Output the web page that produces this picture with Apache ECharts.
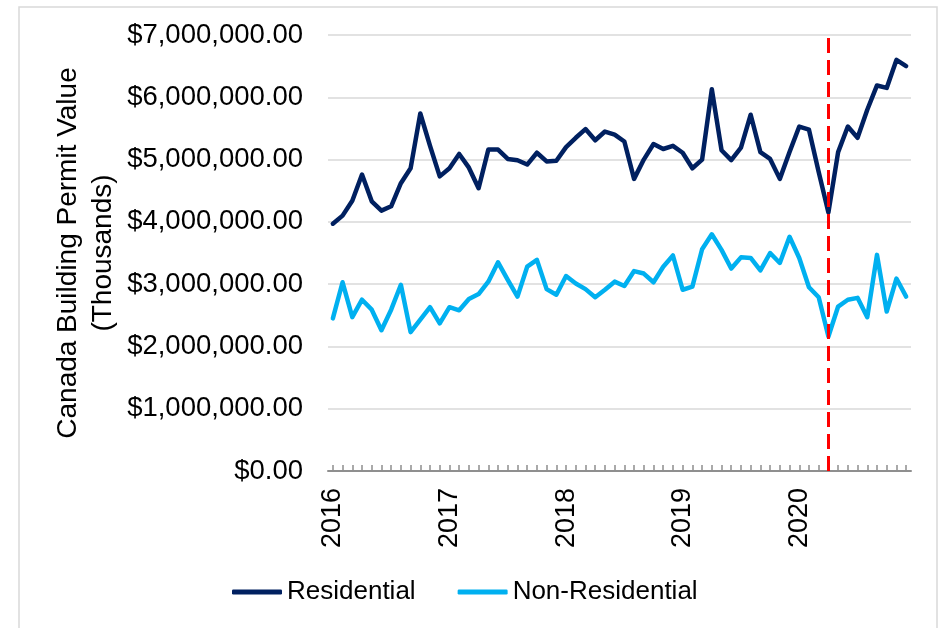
<!DOCTYPE html>
<html>
<head>
<meta charset="utf-8">
<script src="https://cdn.jsdelivr.net/npm/echarts@6/dist/echarts.min.js"></script>
<style>
html,body{margin:0;padding:0;background:#fff;}
#chart{width:943px;height:628px;}
</style>
</head>
<body>
<div id="chart"></div>
<script>
// Monthly categories, Jan 2016 - Dec 2020
const months = [];
for (let y = 2016; y <= 2020; y++) {
  for (let m = 1; m <= 12; m++) months.push(y + '-' + (m < 10 ? '0' + m : m));
}
// Values in thousands of dollars
const residential = [
  3970000, 4100000, 4340000, 4760000, 4330000, 4180000, 4250000, 4620000, 4860000, 5740000, 5220000, 4730000,
  4860000, 5090000, 4870000, 4540000, 5160000, 5160000, 5010000, 4990000, 4920000, 5110000, 4970000, 4980000,
  5200000, 5350000, 5490000, 5310000, 5450000, 5400000, 5290000, 4690000, 5000000, 5250000, 5170000, 5220000,
  5110000, 4860000, 5000000, 6130000, 5150000, 4990000, 5190000, 5720000, 5120000, 5010000, 4690000, 5120000,
  5530000, 5480000, 4800000, 4150000, 5120000, 5530000, 5350000, 5800000, 6190000, 6150000, 6600000, 6500000
];
const nonResidential = [
  2450000, 3030000, 2470000, 2750000, 2590000, 2260000, 2590000, 2990000, 2230000, 2430000, 2630000, 2370000,
  2630000, 2580000, 2760000, 2840000, 3040000, 3350000, 3070000, 2800000, 3280000, 3390000, 2920000, 2830000,
  3130000, 3010000, 2920000, 2790000, 2910000, 3040000, 2970000, 3210000, 3170000, 3030000, 3280000, 3460000,
  2910000, 2960000, 3560000, 3800000, 3550000, 3250000, 3430000, 3420000, 3220000, 3500000, 3340000, 3760000,
  3420000, 2950000, 2790000, 2160000, 2640000, 2750000, 2780000, 2470000, 3470000, 2560000, 3090000, 2800000
];
const seriesNames = ['Residential', 'Non-Residential'];
const markerMonth = '2020-04';
const yAxisTitle = 'Canada Building Permit Value\n(Thousands)';

const FONT = '"Liberation Sans", Arial, sans-serif';

function money(v) {
  return '$' + Number(v).toLocaleString('en-US', {minimumFractionDigits: 2, maximumFractionDigits: 2});
}

const chart = echarts.init(document.getElementById('chart'), null, {renderer: 'canvas'});
chart.setOption({
  animation: false,
  backgroundColor: '#ffffff',
  textStyle: {fontFamily: FONT},
  graphic: [{
    type: 'rect',
    shape: {x: 19, y: 7, width: 918, height: 640},
    style: {fill: 'none', stroke: '#d9d9d9', lineWidth: 1.5},
    z: -1, silent: true
  }, {
    type: 'text',
    x: 86, y: 253,
    rotation: Math.PI / 2,
    silent: true,
    style: {
      text: yAxisTitle,
      fontFamily: FONT, fontSize: 28, lineHeight: 35,
      fill: '#000',
      align: 'center', verticalAlign: 'middle'
    }
  }],
  grid: {left: 328, right: 32, top: 35, bottom: 157, containLabel: false},
  legend: {
    left: 232, top: 579, padding: 0,
    icon: 'roundRect',
    itemWidth: 50, itemHeight: 5, itemGap: 42,
    textStyle: {fontFamily: FONT, fontSize: 26, color: '#000'},
    data: seriesNames
  },
  xAxis: {
    type: 'category',
    data: months,
    boundaryGap: true,
    axisLine: {show: true, lineStyle: {color: '#8f8f8f', width: 2}},
    axisTick: {show: true, inside: true, length: 6, interval: 0, alignWithLabel: true,
               lineStyle: {color: '#8f8f8f', width: 1.5}},
    axisLabel: {
      interval: function (i) { return i % 12 === 0; },
      rotate: 90, margin: 17,
      fontFamily: FONT, fontSize: 27, color: '#000',
      formatter: function (v) { return v.slice(0, 4); }
    },
    splitLine: {show: false}
  },
  yAxis: {
    type: 'value',
    min: 0, max: 7000000, interval: 1000000,
    axisLine: {show: false},
    axisTick: {show: false},
    axisLabel: {margin: 25, fontFamily: FONT, fontSize: 27.5, color: '#000', formatter: money},
    splitLine: {show: true, lineStyle: {color: '#d9d9d9', width: 1.5}}
  },
  series: [
    {
      name: seriesNames[0], type: 'line', data: residential,
      symbol: 'none', smooth: false,
      lineStyle: {color: '#002060', width: 4.5, cap: 'round', join: 'round'},
      itemStyle: {color: '#002060'},
      z: 3
    },
    {
      name: seriesNames[1], type: 'line', data: nonResidential,
      symbol: 'none', smooth: false,
      lineStyle: {color: '#00b0f0', width: 4.5, cap: 'round', join: 'round'},
      itemStyle: {color: '#00b0f0'},
      z: 3,
      markLine: {
        silent: true, symbol: 'none',
        label: {show: false},
        lineStyle: {color: '#ff0000', type: [15, 7], width: 3},
        data: [{xAxis: markerMonth}],
        z: 5
      }
    }
  ]
});
</script>
</body>
</html>
